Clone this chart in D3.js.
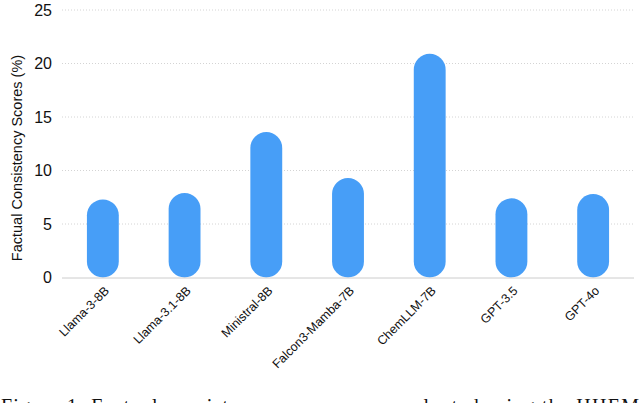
<!DOCTYPE html>
<html><head><meta charset="utf-8">
<script src="https://cdn.jsdelivr.net/npm/d3@7"></script>
<style>html,body{margin:0;padding:0;background:#fff;overflow:hidden}</style>
</head><body>
<svg id="c" width="640" height="403"></svg>
<script>
const categories = ["Llama-3-8B","Llama-3.1-8B","Ministral-8B","Falcon3-Mamba-7B","ChemLLM-7B","GPT-3.5","GPT-4o"];
const scores = [7.3, 7.9, 13.6, 9.3, 20.9, 7.4, 7.8];
const yTicks = [0, 5, 10, 15, 20, 25];
const yLabel = "Factual Consistency Scores (%)";
const caption = "Figure 1: Factual consistency scores were evaluated using the HHEM";

(function () {
const svg = d3.select("#c");
const mLeft = 62, mRight = 634, mTop = 10, mBottom = 277.5;
const x = d3.scaleBand().domain(categories).range([mLeft, mRight]).paddingInner(0.61).paddingOuter(0.305);
const y = d3.scaleLinear().domain([0, 25]).range([mBottom, mTop]);

// gridlines
svg.append("g").selectAll("line").data(yTicks.filter(d => d > 0)).join("line")
  .attr("x1", mLeft).attr("x2", mRight)
  .attr("y1", d => y(d)).attr("y2", d => y(d))
  .attr("stroke", "#d4d4d4").attr("stroke-width", 1).attr("stroke-dasharray", "1,2");

// y axis tick labels
const yAxis = d3.axisLeft(y).tickValues(yTicks).tickSize(0).tickPadding(0).tickFormat(d3.format("d"));
const gy = svg.append("g").attr("transform", `translate(${mLeft - 10},0)`).call(yAxis);
gy.select(".domain").remove();
gy.selectAll("text").attr("font-family", "Liberation Sans, Arial, sans-serif").attr("font-size", 16).attr("fill", "#111");

// bars
const bw = x.bandwidth();
svg.append("g").selectAll("rect").data(scores).join("rect")
  .attr("x", (d, i) => x(categories[i]))
  .attr("y", d => y(d))
  .attr("width", bw)
  .attr("height", d => y(0) - y(d))
  .attr("rx", bw / 2).attr("ry", bw / 2)
  .attr("fill", "#479ef7");

// zero baseline
svg.append("line").attr("x1", mLeft).attr("x2", mRight).attr("y1", y(0) + 0.5).attr("y2", y(0) + 0.5)
  .attr("stroke", "#cccccc").attr("stroke-width", 1);

// x labels
const xAxis = d3.axisBottom(x).tickSize(0).tickPadding(0);
const gx = svg.append("g").attr("transform", `translate(0,${y(0)})`).call(xAxis);
gx.select(".domain").remove();
gx.selectAll("text")
  .attr("font-family", "Liberation Sans, Arial, sans-serif").attr("font-size", 12.5).attr("fill", "#111")
  .attr("text-anchor", "end").attr("dy", 0).attr("y", 0)
  .attr("transform", "translate(7,14) rotate(-45)");

// y label
svg.append("text").attr("transform", `translate(22,158) rotate(-90)`)
  .attr("text-anchor", "middle").attr("font-family", "Liberation Sans, Arial, sans-serif")
  .attr("font-size", 14.5).attr("fill", "#111").text(yLabel);

// caption (cut off at the bottom edge, as in the reference)
svg.append("text").attr("x", 1).attr("y", 413)
  .attr("font-family", "Liberation Serif, Times New Roman, serif").attr("font-size", 20)
  .attr("fill", "#111").attr("textLength", 638).attr("lengthAdjust", "spacing")
  .text(caption);
})();
</script>
</body></html>
